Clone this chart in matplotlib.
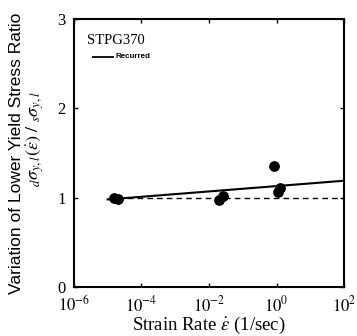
import numpy as np
import matplotlib
matplotlib.use('Agg')
import matplotlib.pyplot as plt

# measured points (strain rate, ratio)
rate_pts = [1.5e-5, 2.0e-5, 0.020, 0.026, 0.85, 1.1, 1.25]
ratio_pts = [1.00, 0.98, 0.975, 1.02, 1.35, 1.06, 1.11]

# recurred line endpoints
line_rate = [1e-5, 1e2]
line_ratio = [0.98, 1.19]

# reference level
ref_rate = [1e-5, 1e2]
ref_ratio = [1.0, 1.0]

xticks = [1e-6, 1e-4, 1e-2, 1e0, 1e2]
xticklabels = ['$10^{-6}$', '$10^{-4}$', '$10^{-2}$', '$10^{0}$', '$10^{2}$']
yticks = [0, 1, 2, 3]

plt.rcParams['font.family'] = ['Liberation Serif', 'DejaVu Serif']
plt.rcParams['mathtext.fontset'] = 'stix'

fig = plt.figure(figsize=(3.57, 3.36), dpi=100)
ax = fig.add_axes([0.207, 0.146, 0.757, 0.797])

ax.plot(ref_rate, ref_ratio, color='black', lw=1.0, ls=(0, (4, 3)))
ax.plot(line_rate, line_ratio, color='black', lw=1.5)
ax.scatter(rate_pts, ratio_pts, s=45, color='black', zorder=3)

ax.set_xscale('log')
ax.set_xlim(1e-6, 1e2)
ax.set_ylim(0, 3)
ax.set_xticks(xticks)
ax.set_xticklabels(xticklabels, fontsize=12)
ax.minorticks_off()
ax.set_yticks(yticks)
ax.set_yticklabels([str(v) for v in yticks], fontsize=12)
ax.tick_params(direction='in', top=True, right=True, length=3, width=1)
ax.tick_params(axis='x', pad=6)
ax.tick_params(axis='y', pad=6)
for sp in ax.spines.values():
    sp.set_linewidth(1.5)

ax.set_xlabel(r'Strain Rate $\dot{\varepsilon}$ (1/sec)', fontsize=13.5, labelpad=0)

fig.text(0.045, 0.545, 'Variation of Lower Yield Stress Ratio', rotation=90,
         ha='center', va='center', fontsize=12.5, family=['Liberation Sans', 'DejaVu Sans'])
fig.text(0.098, 0.585, r'$_{d}\sigma_{y,l}(\dot{\varepsilon})\ /\ _{s}\sigma_{y,l}$', rotation=90,
         ha='center', va='center', fontsize=13)

ax.text(0.05, 0.92, 'STPG370', transform=ax.transAxes, fontsize=10.5, va='center')
ax.plot([0.07, 0.145], [0.86, 0.86], transform=ax.transAxes, color='black', lw=1.3)
ax.text(0.155, 0.86, 'Recurred', transform=ax.transAxes, fontsize=5.8, va='center',
        weight='bold', family=['Liberation Sans', 'DejaVu Sans'])

fig.savefig('out.png', dpi=100)
